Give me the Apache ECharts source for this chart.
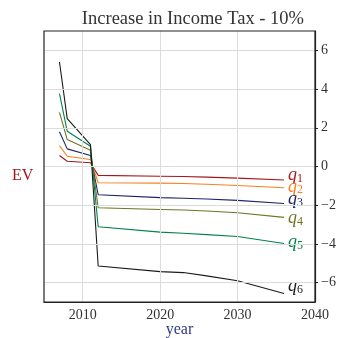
<!DOCTYPE html>
<html>
<head>
<meta charset="utf-8">
<script src="https://cdn.jsdelivr.net/npm/echarts@6/dist/echarts.min.js"></script>
<style>
  html, body { margin: 0; padding: 0; background: #fff; }
  #chart { width: 342px; height: 338px; }
</style>
</head>
<body>
<div id="chart"></div>
<script>
// Expected value change per income quantile after a 10% income tax increase
const years = [2007, 2008, 2011, 2012, 2020, 2023, 2026, 2030, 2036];
const q1 = [0.57, 0.27, 0.19, -0.46, -0.50, -0.52, -0.55, -0.60, -0.70];
const q2 = [1.08, 0.53, 0.36, -0.84, -0.86, -0.88, -0.92, -0.98, -1.10];
const q3 = [1.79, 0.91, 0.57, -1.46, -1.61, -1.64, -1.68, -1.75, -1.91];
const q4 = [2.80, 1.39, 0.84, -2.13, -2.22, -2.25, -2.30, -2.39, -2.63];
const q5 = [3.76, 1.82, 1.05, -3.11, -3.39, -3.45, -3.52, -3.62, -3.98];
const q6 = [5.40, 2.47, 1.13, -5.14, -5.43, -5.48, -5.65, -5.90, -6.56];
const seriesNames = ['1', '2', '3', '4', '5', '6'];
const seriesValues = [q1, q2, q3, q4, q5, q6];
const xTicks = [2010, 2020, 2030, 2040];
const yTicks = [-6, -4, -2, 0, 2, 4, 6];

const colors = ['#a3171c', '#f7801f', '#1c2468', '#6f7424', '#00824a', '#1a1a1a'];
const labelOffsets = [[0, -5], [0, -1], [0, -4], [0, 1], [0, -1], [0, -7]];

const serif = '"Liberation Serif", "DejaVu Serif", serif';
const gridColor = '#dcdcdc';

const chart = echarts.init(document.getElementById('chart'), null, { renderer: 'canvas' });

const series = seriesValues.map((vals, i) => ({
  name: 'q' + seriesNames[i],
  type: 'line',
  data: years.map((y, k) => [y, vals[k]]),
  showSymbol: false,
  symbol: 'none',
  lineStyle: { color: colors[i], width: 1.1 },
  itemStyle: { color: colors[i] },
  z: 3,
  endLabel: {
    show: true,
    distance: 4,
    offset: labelOffsets[i],
    formatter: '{q|q}{s|' + seriesNames[i] + '}',
    rich: {
      q: { fontFamily: serif, fontStyle: 'italic', fontSize: 18, color: colors[i] },
      s: { fontFamily: serif, fontSize: 12, color: colors[i], verticalAlign: 'bottom', padding: [7, 0, 0, 0] }
    }
  }
}));

// light grid lines at the labelled ticks
const gridLines = {
  type: 'line',
  data: [],
  z: 1,
  markLine: {
    silent: true,
    symbol: 'none',
    label: { show: false },
    lineStyle: { color: gridColor, type: 'solid', width: 1 },
    data: yTicks.map(v => ({ yAxis: v })).concat(xTicks.slice(0, 3).map(v => ({ xAxis: v })))
  }
};

chart.setOption({
  backgroundColor: '#fff',
  animation: false,
  title: {
    text: 'Increase in Income Tax - 10%',
    right: 33,
    top: 5,
    textStyle: { fontFamily: serif, fontWeight: 'normal', fontSize: 18.5, color: '#333' }
  },
  grid: { left: 44, right: 27, top: 31, bottom: 36, outerBoundsMode: 'none', containLabel: false },
  xAxis: {
    type: 'value',
    min: 2005,
    max: 2040,
    interval: 5,
    name: 'year',
    nameLocation: 'middle',
    nameGap: 20,
    nameMoveOverlap: false,
    nameTextStyle: { fontFamily: serif, fontSize: 16, color: '#2e3a87' },
    axisLine: { show: true, onZero: false, lineStyle: { color: '#222', width: 1.2 } },
    axisTick: { show: true, inside: true, length: 3, lineStyle: { color: '#222' }, customValues: xTicks },
    axisLabel: {
      fontFamily: serif, fontSize: 14, color: '#333', margin: 6,
      customValues: xTicks,
      formatter: v => String(v)
    },
    splitLine: { show: false }
  },
  yAxis: {
    type: 'value',
    position: 'right',
    min: -7,
    max: 7,
    interval: 1,
    axisLine: { show: true, onZero: false, lineStyle: { color: '#222', width: 1.2 } },
    axisTick: { show: true, inside: false, length: 3, lineStyle: { color: '#222' }, customValues: yTicks },
    axisLabel: {
      fontFamily: serif, fontSize: 14, color: '#333', margin: 6,
      customValues: yTicks,
      formatter: v => (v < 0 ? '\u2212' + Math.abs(v) : String(v))
    },
    splitLine: { show: false }
  },
  graphic: [
    {
      type: 'rect',
      shape: { x: 44, y: 31, width: 271, height: 271 },
      style: { fill: 'none', stroke: '#222', lineWidth: 1.2 },
      z: 10, silent: true
    },
    {
      type: 'text',
      left: 12,
      top: 168,
      style: { text: 'EV', font: '16px ' + serif, fill: '#a3171c' }
    }
  ],
  series: [gridLines].concat(series)
});
</script>
</body>
</html>
